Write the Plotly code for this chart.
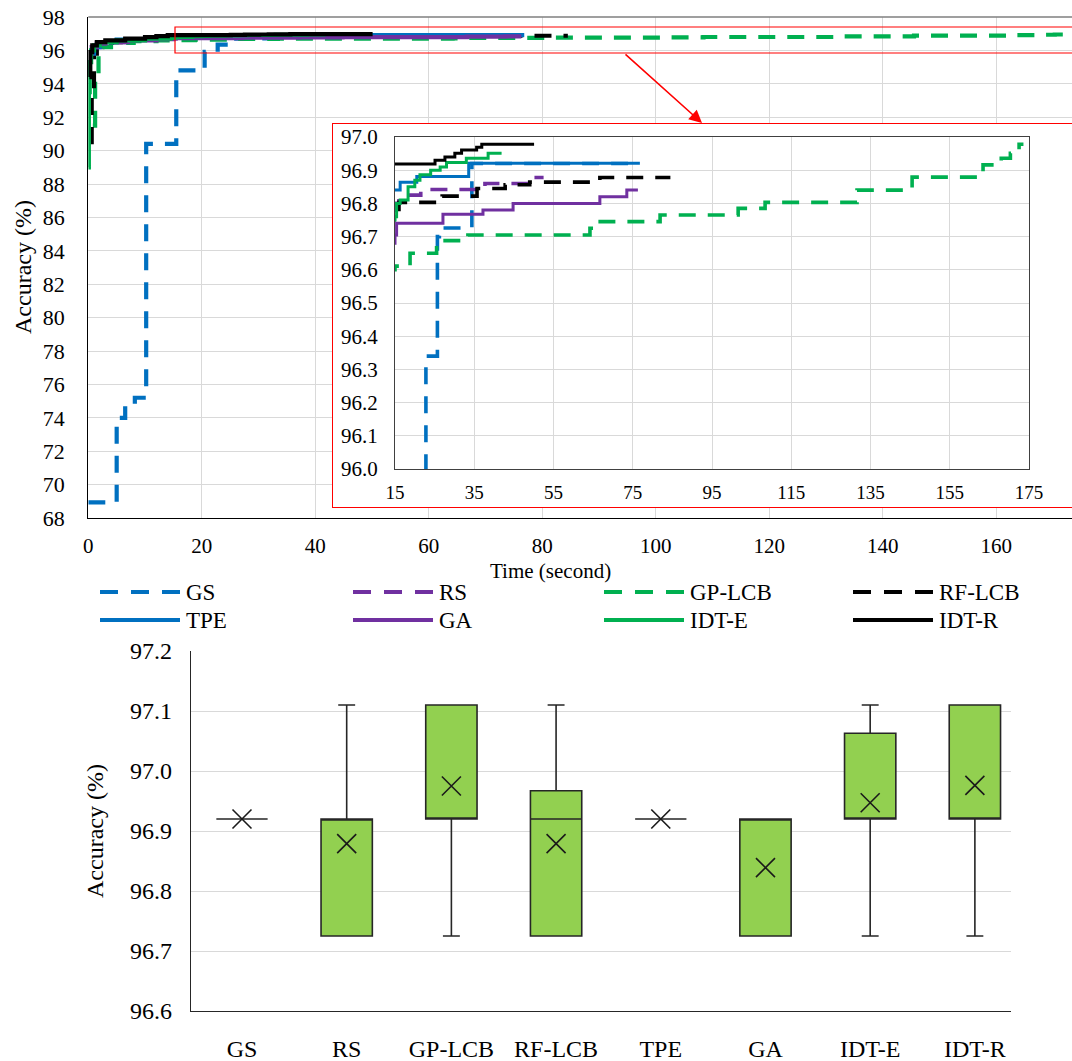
import plotly.graph_objects as go

W, H = 1072, 1061
OFF = 0  # body margin is removed below, so window pixels == figure pixels
FONT = "Liberation Serif"

# ---------------- data: convergence curves (best-so-far accuracy vs. time) ----------------
series_names = ["GS", "RS", "GP-LCB", "RF-LCB", "TPE", "GA", "IDT-E", "IDT-R"]

GS_time = [0, 5.0, 6.5, 8.2, 10.2, 15.5, 20.5, 22.8, 25.7, 26.2, 34.4, 76.8]
GS_acc = [68.94, 74.0, 74.8, 75.2, 90.4, 94.8, 95.92, 96.34, 96.70, 96.726, 96.92, 96.92]

RS_time = [0.4, 0.8, 2.5, 7.0, 12.0, 15.0, 16.0, 21.5, 37.7, 49.0, 52.5]
RS_acc = [95.9, 96.2, 96.5, 96.65, 96.75, 96.80, 96.825, 96.842, 96.86, 96.878, 96.878]

GPLCB_time = [0.8, 1.2, 1.8, 2.5, 4.0, 8.0, 12.0, 15.0, 18.8, 25.5, 33.4, 64.2, 65.5, 81.9,
              101.6, 108.4, 131.6, 145.5, 161.9, 163.4, 168.0, 170.3, 172.5, 173.6]
GPLCB_acc = [91.5, 94.5, 95.8, 96.2, 96.45, 96.55, 96.6, 96.611, 96.65, 96.688, 96.705, 96.725,
             96.745, 96.765, 96.785, 96.803, 96.84, 96.879, 96.895, 96.916, 96.936, 96.951,
             96.978, 96.978]

RFLCB_time = [0.3, 0.6, 1.0, 1.5, 3.0, 7.0, 12.0, 16.0, 26.9, 35.7, 42.8, 49.0, 66.7, 84.5]
RFLCB_acc = [90.5, 93.5, 95.8, 96.3, 96.5, 96.65, 96.75, 96.803, 96.822, 96.845, 96.856,
             96.864, 96.878, 96.878]

TPE_time = [0.6, 1.0, 2.0, 5.0, 10.0, 14.0, 16.3, 20.5, 33.6, 76.8]
TPE_acc = [95.8, 96.2, 96.5, 96.65, 96.78, 96.84, 96.864, 96.881, 96.921, 96.921]

GA_time = [0.3, 0.6, 1.5, 3.0, 7.0, 12.0, 15.0, 15.4, 27.1, 37.2, 44.8, 66.7, 73.5, 76.3]
GA_acc = [95.8, 96.2, 96.4, 96.5, 96.6, 96.68, 96.705, 96.74, 96.767, 96.78, 96.80, 96.82,
          96.84, 96.84]

IDTE_time = [0, 0.1, 0.25, 0.5, 1.0, 2.0, 5.0, 10.0, 14.5, 15.0, 15.4, 16.3, 18.3, 20.0, 21.3,
             24.0, 26.4, 28.0, 33.0, 38.5, 41.9]
IDTE_acc = [89.0, 93.5, 95.3, 96.0, 96.3, 96.5, 96.6, 96.7, 96.75, 96.76, 96.80, 96.81, 96.85,
            96.87, 96.886, 96.90, 96.91, 96.923, 96.936, 96.951, 96.951]

IDTR_time = [0.2, 0.35, 0.7, 1.5, 3.0, 6.5, 10.0, 12.0, 14.0, 25.1, 27.6, 30.1, 31.8, 35.6, 36.9, 50.1]
IDTR_acc = [94.4, 95.9, 96.3, 96.5, 96.6, 96.7, 96.8, 96.85, 96.919, 96.93, 96.94, 96.951,
            96.961, 96.969, 96.978, 96.978]

series_time = [GS_time, RS_time, GPLCB_time, RFLCB_time, TPE_time, GA_time, IDTE_time, IDTR_time]
series_acc = [GS_acc, RS_acc, GPLCB_acc, RFLCB_acc, TPE_acc, GA_acc, IDTE_acc, IDTR_acc]

# ---------------- data: box plot of final accuracy ----------------
box_categories = ["GS", "RS", "GP-LCB", "RF-LCB", "TPE", "GA", "IDT-E", "IDT-R"]
box_lowerfence = [96.92, 96.725, 96.725, 96.725, 96.92, 96.725, 96.725, 96.725]
box_q1 = [96.92, 96.725, 96.92, 96.725, 96.92, 96.725, 96.92, 96.92]
box_median = [96.92, 96.92, 96.92, 96.92, 96.92, 96.92, 96.92, 96.92]
box_q3 = [96.92, 96.92, 97.11, 96.967, 96.92, 96.92, 97.063, 97.11]
box_upperfence = [96.92, 97.11, 97.11, 97.11, 96.92, 96.92, 97.11, 97.11]
box_mean = [96.92, 96.879, 96.975, 96.879, 96.92, 96.839, 96.947, 96.976]

main_xticks = [0, 20, 40, 60, 80, 100, 120, 140, 160]
main_yticks = [68 + 2 * i for i in range(16)]
inset_xticks = [15, 35, 55, 75, 95, 115, 135, 155, 175]
inset_yticks = [96.0, 96.1, 96.2, 96.3, 96.4, 96.5, 96.6, 96.7, 96.8, 96.9, 97.0]
box_yticks = [96.6, 96.7, 96.8, 96.9, 97.0, 97.1, 97.2]

# ---------------- styles ----------------
colors = ["#0070C0", "#7030A0", "#00B050", "#000000", "#0070C0", "#7030A0", "#00B050", "#000000"]
dashed = [True, True, True, True, False, False, False, False]
DASH = "17px,12px"


def px(x):
    """window pixel x -> paper fraction"""
    return (x - OFF) / W


def py(y):
    """window pixel y -> paper fraction"""
    return 1 - (y - OFF) / H


fig = go.Figure()

# main chart traces
for name, t, v, c, d in zip(series_names, series_time, series_acc, colors, dashed):
    fig.add_trace(go.Scatter(x=t, y=v, mode="lines",
                             line=dict(color=c, width=4.2, dash=DASH if d else "solid", shape="hv"),
                             xaxis="x", yaxis="y", showlegend=False, name=name, hoverinfo="skip"))

# white panel subplot (creates the red box behind the inset)
fig.add_trace(go.Scatter(x=[], y=[], xaxis="x2", yaxis="y2", showlegend=False, hoverinfo="skip"))

# inset traces
for name, t, v, c, d in zip(series_names, series_time, series_acc, colors, dashed):
    fig.add_trace(go.Scatter(x=t, y=v, mode="lines",
                             line=dict(color=c, width=3.6 if d else 3.0, dash=DASH if d else "solid", shape="hv"),
                             xaxis="x3", yaxis="y3", showlegend=False, name=name, hoverinfo="skip"))

# box plot
fig.add_trace(go.Box(x=box_categories, q1=box_q1, median=box_median, q3=box_q3,
                     lowerfence=box_lowerfence, upperfence=box_upperfence,
                     fillcolor="#92D050", line=dict(color="#262626", width=1.6),
                     width=0.49, whiskerwidth=0.33, boxpoints=False,
                     xaxis="x4", yaxis="y4", showlegend=False, hoverinfo="skip"))
fig.add_trace(go.Scatter(x=box_categories, y=box_mean, mode="markers",
                         marker=dict(symbol="x-thin", size=19, line=dict(color="#1a1a1a", width=1.6)),
                         xaxis="x4", yaxis="y4", showlegend=False, hoverinfo="skip"))

grid = "#D9D9D9"
tickfont_main = dict(family=FONT, size=21, color="black")

fig.update_layout(
    width=W, height=H,
    margin=dict(l=0, r=0, t=0, b=0, pad=0, autoexpand=False),
    paper_bgcolor="white", plot_bgcolor="white",
    showlegend=False,
    hovermode=False,
    font=dict(family=FONT, color="black"),
    xaxis=dict(domain=[px(88.3), 1.0], range=[0, (W - 88.3) / 5.675], anchor="y", tickvals=main_xticks,
               showgrid=True, gridcolor=grid, gridwidth=1, showline=True, linecolor="black", linewidth=1.3,
               ticks="", tickfont=tickfont_main, ticklabelstandoff=9, zeroline=False, automargin=False,
               ticklabeloverflow="allow", showspikes=False),
    yaxis=dict(domain=[py(518), py(17)], range=[68, 98], anchor="x", tickvals=main_yticks,
               showgrid=True, gridcolor=grid, gridwidth=1, showline=True, linecolor="black", linewidth=1.3,
               ticks="", tickfont=dict(family=FONT, size=22, color="black"), ticklabelstandoff=18,
               zeroline=False, automargin=False, ticklabeloverflow="allow", showspikes=False),
    xaxis2=dict(domain=[px(333), 1.0], range=[0, 1], anchor="y2", showgrid=False, showticklabels=False,
                showline=True, linecolor="#FF0000", linewidth=1.2, mirror=True, ticks="", zeroline=False,
                automargin=False),
    yaxis2=dict(domain=[py(507), py(124)], range=[0, 1], anchor="x2", showgrid=False, showticklabels=False,
                showline=True, linecolor="#FF0000", linewidth=1.2, mirror=False, ticks="", zeroline=False,
                automargin=False),
    xaxis3=dict(domain=[px(395), px(1029)], range=[15, 175], anchor="y3", tickvals=inset_xticks,
                showgrid=True, gridcolor=grid, gridwidth=1.2, showline=True, linecolor="#404040", linewidth=1.3,
                mirror=True, ticks="", tickfont=dict(family=FONT, size=19, color="black"),
                ticklabelstandoff=6, zeroline=False, automargin=False, ticklabeloverflow="allow",
                showspikes=False),
    yaxis3=dict(domain=[py(469), py(137)], range=[96, 97], anchor="x3", tickvals=inset_yticks,
                tickformat=".1f", showgrid=True, gridcolor=grid, gridwidth=1.2, showline=True,
                linecolor="#404040", linewidth=1.3, mirror=True, ticks="",
                tickfont=dict(family=FONT, size=21, color="black"), ticklabelstandoff=12, zeroline=False,
                automargin=False, ticklabeloverflow="allow", showspikes=False),
    xaxis4=dict(domain=[px(191), px(1011)], range=[-0.487, 7.345], anchor="y4", type="category",
                showgrid=False, showline=True, linecolor="#262626", linewidth=1.3, ticks="",
                tickfont=dict(family=FONT, size=24, color="black"), ticklabelstandoff=16, automargin=False,
                ticklabeloverflow="allow"),
    yaxis4=dict(domain=[py(1011), py(651)], range=[96.6, 97.2], anchor="x4", tickvals=box_yticks,
                tickformat=".1f", showgrid=True, gridcolor=grid, gridwidth=1.2, showline=True,
                linecolor="#262626", linewidth=1.3, ticks="",
                tickfont=dict(family=FONT, size=24, color="black"), ticklabelstandoff=13, zeroline=False,
                automargin=False, ticklabeloverflow="allow"),
)

shapes = []
# top border of main chart
shapes.append(dict(type="line", xref="paper", yref="paper", x0=px(88.3), x1=1.0, y0=py(17), y1=py(17),
                   line=dict(color="#7F7F7F", width=1.5), layer="above"))
# small red zoom rectangle in the main chart
shapes.append(dict(type="rect", xref="paper", yref="paper", x0=px(175), x1=1.01, y0=py(53), y1=py(27),
                   line=dict(color="#FF0000", width=1.2), fillcolor="rgba(0,0,0,0)", layer="above"))

annotations = []
# red arrow
annotations.append(dict(xref="paper", yref="paper", x=px(702), y=py(123), ax=624 - 702, ay=53 - 123,
                        axref="pixel", ayref="pixel", text="", showarrow=True, arrowhead=2, arrowsize=1.6,
                        arrowwidth=1.6, arrowcolor="#FF0000"))
# axis titles
annotations.append(dict(xref="paper", yref="paper", x=px(23), y=py(267), xanchor="center", yanchor="middle",
                        text="Accuracy (%)", textangle=-90, showarrow=False,
                        font=dict(family=FONT, size=24, color="black")))
annotations.append(dict(xref="paper", yref="paper", x=px(550), y=py(571), xanchor="center", yanchor="middle",
                        text="Time (second)", showarrow=False, font=dict(family=FONT, size=21, color="black")))
annotations.append(dict(xref="paper", yref="paper", x=px(95), y=py(831), xanchor="center", yanchor="middle",
                        text="Accuracy (%)", textangle=-90, showarrow=False,
                        font=dict(family=FONT, size=24, color="black")))

# legend (drawn manually: 2 rows x 4 columns)
leg_line_x = [100, 353, 604, 853]
leg_rows = [592, 620]
for i, (name, c, d) in enumerate(zip(series_names, colors, dashed)):
    row = i // 4
    col = i % 4
    x0 = leg_line_x[col]
    y = leg_rows[row]
    shapes.append(dict(type="line", xref="paper", yref="paper", x0=px(x0), x1=px(x0 + 80), y0=py(y), y1=py(y),
                       line=dict(color=c, width=4.2, dash="18px,13px" if d else "solid"), layer="above"))
    annotations.append(dict(xref="paper", yref="paper", x=px(x0 + 84), y=py(y), xanchor="left", yanchor="middle",
                            text=name, showarrow=False, font=dict(family=FONT, size=23, color="black")))

fig.update_layout(shapes=shapes, annotations=annotations)

# remove the default page margin so the figure fills the window exactly
fig.write_html("out.html",
               config={"displayModeBar": False},
               post_script="document.body.style.margin='0';document.body.style.overflow='hidden';")
